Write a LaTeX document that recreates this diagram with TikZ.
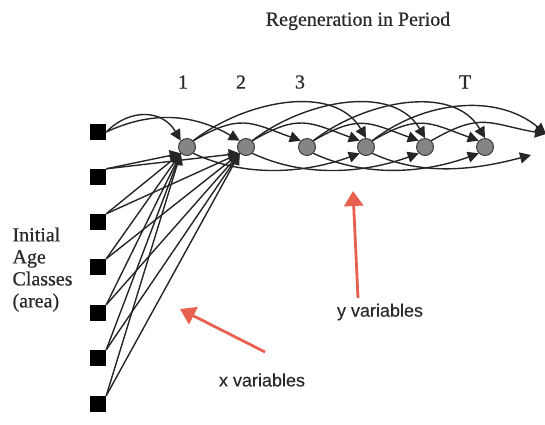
\documentclass[tikz,border=0pt]{standalone}
\usepackage{fontspec}
\setmainfont{Liberation Serif}[FakeBold=0.6]
\setsansfont{Liberation Sans}[FakeBold=0.3]
\usepackage{xcolor}
\usepackage{tikz}
\usetikzlibrary{arrows.meta, positioning}

\definecolor{hintred}{HTML}{E8604F}
\definecolor{inkgray}{HTML}{2A2A2A}
\definecolor{nodegray}{HTML}{858585}

\begin{document}
\begin{tikzpicture}[x=1pt, y=1pt,
    age/.style={fill=black, minimum size=16pt, inner sep=0pt},
    regen/.style={circle, draw=black!80, fill=nodegray, minimum size=17pt, inner sep=0pt, line width=0.9pt},
    flow/.style={-{Triangle[length=11pt,width=11pt]}, line width=1.4pt, draw=black!85},
    hint/.style={-{Triangle[length=15pt,width=19pt]}, draw=hintred, line width=2.8pt},
    serif/.style={font=\fontsize{20}{22}\selectfont, text=inkgray},
    sans/.style={font=\sffamily\fontsize{18}{20}\selectfont, text=inkgray}]
    			\useasboundingbox (0,0) rectangle (545,-424);
    			
    			% initial age classes
    			\foreach \i/\y in {1/132, 2/177, 3/222, 4/267, 5/313, 6/358, 7/404}{
    				\node[age] (a\i) at (98,-\y) {};
    			}
    			% regeneration periods
    			\foreach \i/\x in {1/187, 2/246, 3/307, 4/366, 5/425, 6/485}{
    				\node[regen] (r\i) at (\x,-147) {};
    			}
    			\coordinate (endtop) at (546,-134);
    			\coordinate (endbot) at (531,-155);
    			
    			% labels
    			\node[serif] (title) at (358,-21) {Regeneration in Period};
    			\foreach \x/\label in {183/1, 241/2, 300/3, 465/T}{
    				\node[serif] at (\x,-82) {\label};
    			}
    			\node[serif, align=left, anchor=north west] (classes) at (9,-224) {Initial\\Age\\Classes\\(area)};
    			
    			% x variables
    			\draw[flow] (a1.east) to[out=45, in=120, looseness=1.2] (r1.north west);
    			\draw[flow] (a1.east) to[out=25, in=150, looseness=1.0] (r2.north west);
    			\foreach \i in {2,...,7}{
    				\draw[flow] (a\i.north east) -- (r1.south west);
    				\draw[flow] (a\i.north east) -- (r2.south west);
    			}
    			
    			% y variables
    			\foreach \i/\j in {1/4, 2/5, 3/6}{
    				\draw[flow] (r\i.north east) to[out=38, in=120, looseness=0.95] (r\j.north);
    			}
    			\draw[flow] (r4.north east) to[out=38, in=140, looseness=0.95] (endtop);
    			\foreach \i/\j in {1/3, 2/4, 3/5, 4/6}{
    				\draw[flow] (r\i.north east) to[out=30, in=160, looseness=1.3] (r\j.north west);
    			}
    			\draw[flow] (r5.north east) to[out=30, in=170, looseness=1.3] (endtop);
    			\foreach \i/\j in {1/4, 2/5, 3/6}{
    				\draw[flow] (r\i.south east) to[out=-25, in=-160, looseness=0.9] (r\j.south west);
    			}
    			\draw[flow] (r4.south east) to[out=-25, in=-165, looseness=0.9] (endbot);
    			
    			% notes
    			\node[sans] (xnote) at (262,-380) {x variables};
    			\node[sans] (ynote) at (380,-312) {y variables};
    			\coordinate (xtail) at (265,-352);
    			\coordinate (ytail) at (358,-298);
    			\coordinate (xtip) at (180,-309);
    			\coordinate (ytip) at (353,-191);
    			\draw[hint] (xtail) -- (xtip);
    			\draw[hint] (ytail) -- (ytip);
\end{tikzpicture}
\end{document}
